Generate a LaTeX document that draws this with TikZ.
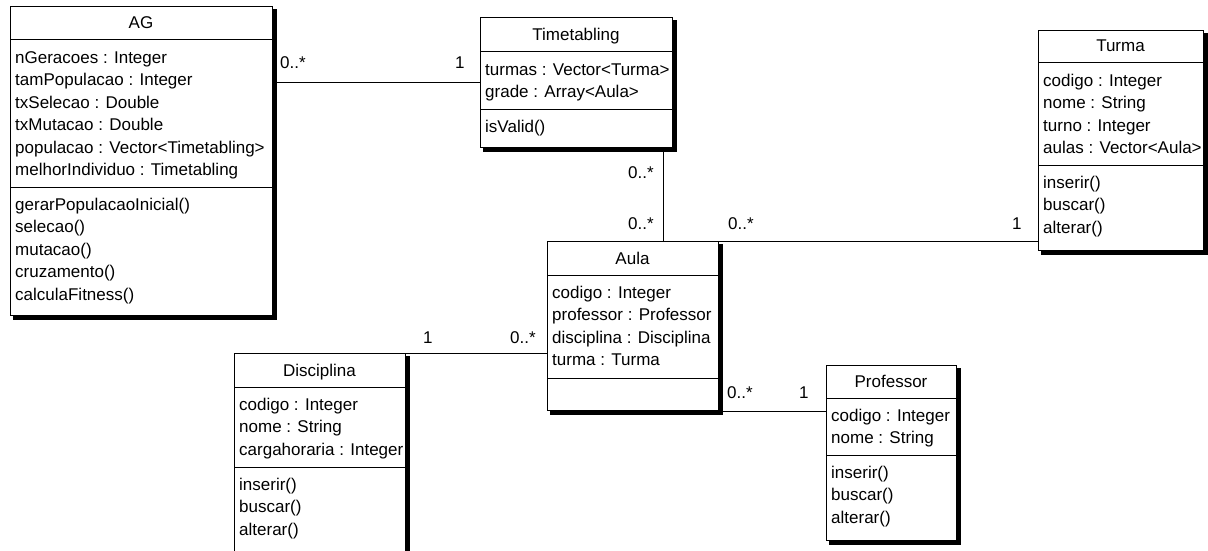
\documentclass[tikz,border=0pt]{standalone}
\usepackage{fontspec}
\setmainfont{Liberation Sans}
\usetikzlibrary{calc}

\tikzset{
  x=1pt, y=-1pt,
  umlfont/.style={font=\fontsize{17}{20}\selectfont},
  classbox/.style={draw, line width=1pt, fill=white, inner sep=0pt, anchor=north west},
  classtitle/.style={umlfont, anchor=base, inner sep=0pt},
  member/.style={umlfont, anchor=base west, inner sep=0pt},
  mult/.style={umlfont, anchor=base west, inner sep=0pt},
  assoc/.style={line width=1pt},
  divider/.style={line width=1pt},
}

% class frame: name, left, top, right, bottom, first divider, second divider, title
\newcommand\umlbox[8]{%
  \fill[black] (#2+3,#3+3) rectangle (#4+5,#5+5);
  \node[classbox, minimum width={#4pt-#2pt}, minimum height={#5pt-#3pt}] (#1) at (#2,#3) {};
  \draw[divider] (#2,#6) -- (#4,#6) (#2,#7) -- (#4,#7);
  \node[classtitle] (#1-title) at ({(#2+#4)/2},{#6-11}) {#8};
}
% compartment rows: name prefix, left, divider above, list of rows
\newcommand\umlrows[4]{%
  \foreach \rowtext [count=\i] in {#4}
    \node[member] (#1\i) at (#2+5,{#3+23.5+22.4*(\i-1)}) {\rowtext};
}

\begin{document}
\begin{tikzpicture}
\useasboundingbox[fill=white] (0,0) rectangle (1208,551);

% AG
\umlbox{ag}{10}{6}{272}{315}{40}{187}{AG}
\umlrows{ag-a}{10}{40}{nGeracoes : Integer, tamPopulacao : Integer, txSelecao : Double, txMutacao : Double, populacao : Vector<Timetabling>, melhorIndividuo : Timetabling}
\umlrows{ag-m}{10}{187}{gerarPopulacaoInicial(), selecao(), mutacao(), cruzamento(), calculaFitness()}

% Timetabling
\umlbox{tt}{480}{17}{672}{147}{52}{109}{Timetabling}
\umlrows{tt-a}{480}{52}{turmas : Vector<Turma>, grade : Array<Aula>}
\umlrows{tt-m}{480}{109}{isValid()}

% Turma
\umlbox{turma}{1038}{30}{1203}{250}{63}{165}{Turma}
\umlrows{turma-a}{1038}{63}{codigo : Integer, nome : String, turno : Integer, aulas : Vector<Aula>}
\umlrows{turma-m}{1038}{165}{inserir(), buscar(), alterar()}

% Aula
\umlbox{aula}{547}{241}{718}{410}{275}{378}{Aula}
\umlrows{aula-a}{547}{275}{codigo : Integer, professor : Professor, disciplina : Disciplina, turma : Turma}

% Disciplina
\umlbox{disc}{234}{353}{405}{556}{387}{467}{Disciplina}
\umlrows{disc-a}{234}{387}{codigo : Integer, nome : String, cargahoraria : Integer}
\umlrows{disc-m}{234}{467}{inserir(), buscar(), alterar()}

% Professor
\umlbox{prof}{826}{365}{956}{540}{398}{455}{Professor}
\umlrows{prof-a}{826}{398}{codigo : Integer, nome : String}
\umlrows{prof-m}{826}{455}{inserir(), buscar(), alterar()}

% associations
\coordinate (aulaTop) at ([xshift=116pt]aula.north west);
\draw[assoc] (tt.west) -- (tt.west -| ag.east);
\draw[assoc] (aulaTop) -- (aulaTop |- tt.south);
\draw[assoc] (aulaTop) -- (aulaTop -| turma.west);
\draw[assoc] (disc.north east) -- (disc.north east -| aula.west);
\draw[assoc] (aula.south east) -- (aula.south east -| prof.west);

% multiplicities
\node[mult] (m-ag) at (280,69) {0..*};
\node[mult] (m-tt) at (455,69) {1};
\node[mult] (m-tt2) at (628,178) {0..*};
\node[mult] (m-aula1) at (628,229) {0..*};
\node[mult] (m-aula2) at (728,229) {0..*};
\node[mult] (m-turma) at (1012,229) {1};
\node[mult] (m-disc) at (423,343) {1};
\node[mult] (m-aula3) at (510,343) {0..*};
\node[mult] (m-aula4) at (727,398) {0..*};
\node[mult] (m-prof) at (799,398) {1};
\end{tikzpicture}
\end{document}
